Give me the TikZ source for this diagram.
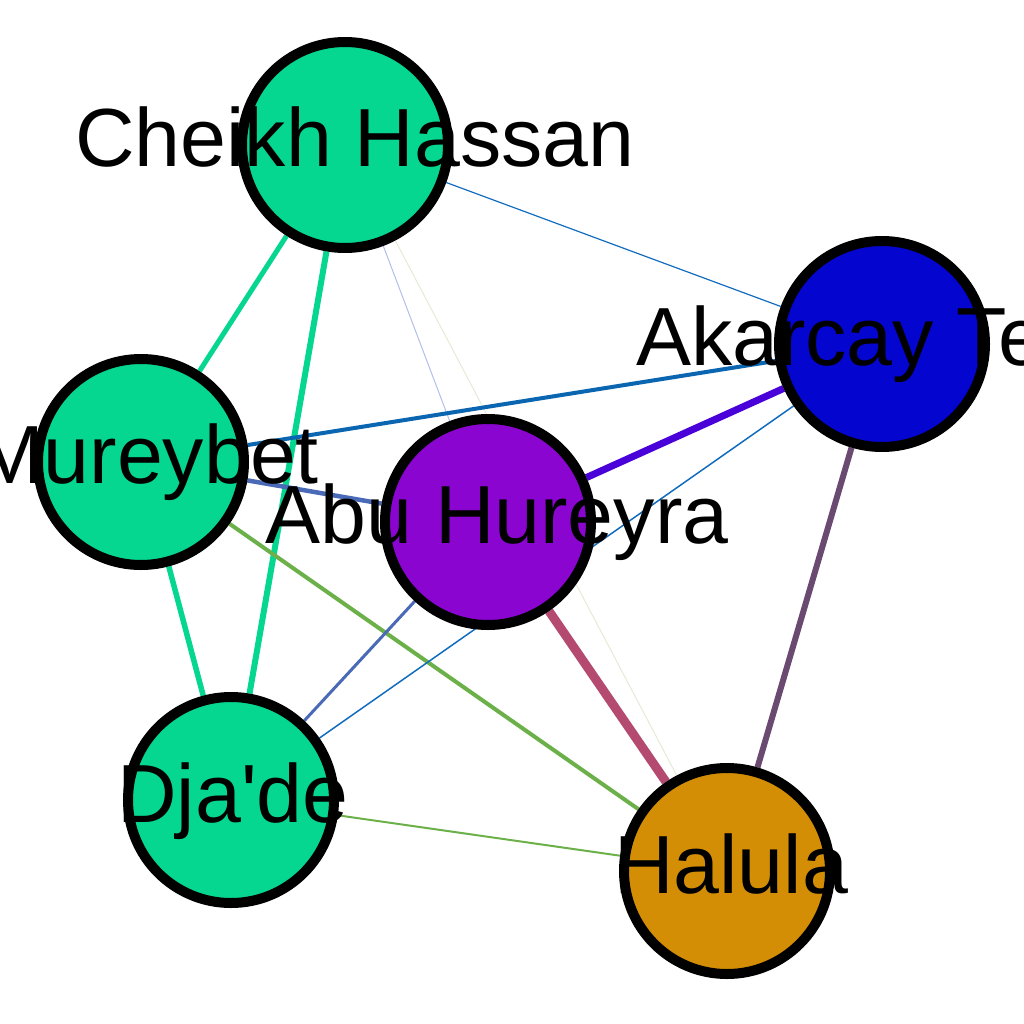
\documentclass[tikz,border=0pt]{standalone}
\usepackage{fontspec}
\setmainfont{Liberation Sans}
\usetikzlibrary{backgrounds}
\definecolor{cgreen}{RGB}{5,214,144}
\definecolor{cblue}{RGB}{5,5,208}
\definecolor{cpurple}{RGB}{139,5,208}
\definecolor{corange}{RGB}{212,142,5}
\definecolor{eblue}{RGB}{18,108,190}
\definecolor{eblueB}{RGB}{10,102,176}
\definecolor{eslate}{RGB}{74,106,184}
\definecolor{egreen}{RGB}{108,176,74}
\definecolor{eviolet}{RGB}{74,0,216}
\definecolor{erose}{RGB}{180,74,112}
\definecolor{emauve}{RGB}{106,74,112}
\definecolor{efaintblue}{RGB}{176,192,232}
\definecolor{efaintgreen}{RGB}{226,236,212}
\tikzset{
  site/.style={circle, draw=black, line width=10pt, minimum size=206pt, inner sep=0pt},
  lab/.style={anchor=base, inner sep=0pt, font=\fontsize{82.5}{98}\selectfont},
  edge/.style={line cap=butt}
}
\begin{document}
\begin{tikzpicture}[x=1pt,y=-1pt]
\useasboundingbox (0,0) rectangle (1024,1024);
\node[site, fill=cgreen] (ch) at (345,145) {};
\node[site, fill=cblue] (ak) at (882,344) {};
\node[site, fill=cgreen] (mu) at (141,462) {};
\node[site, fill=cpurple] (ab) at (488,522) {};
\node[site, fill=cgreen] (dj) at (231,800) {};
\node[site, fill=corange] (ha) at (727,871) {};
\begin{scope}[on background layer]
\draw[edge, eblue, line width=1.2pt] (ch) -- (ak);
\draw[edge, cgreen, line width=5pt] (ch) -- (mu);
\draw[edge, cgreen, line width=6pt] (ch) -- (dj);
\draw[edge, efaintblue, line width=1pt] (ch) -- (ab);
\draw[edge, efaintgreen, line width=1pt] (ch) -- (ha);
\draw[edge, eblueB, line width=4pt] (mu) -- (ak);
\draw[edge, eslate, line width=4.5pt] (mu) -- (ab);
\draw[edge, egreen, line width=4pt] (mu) -- (ha);
\draw[edge, cgreen, line width=5.5pt] (mu) -- (dj);
\draw[edge, eviolet, line width=7pt] (ab) -- (ak);
\draw[edge, erose, line width=9pt] (ab) -- (ha);
\draw[edge, eslate, line width=3pt] (ab) -- (dj);
\draw[edge, eblue, line width=1.5pt] (ak) -- (dj);
\draw[edge, emauve, line width=6pt] (ak) -- (ha);
\draw[edge, egreen, line width=2pt] (dj) -- (ha);
\end{scope}
\node[lab] (chl) at (355,166.5) {Cheikh Hassan};
\node[lab] (akl) at (886,365.5) {Akarcay Tepe};
\node[lab] (mul) at (147,483.5) {Mureybet};
\node[lab] (abl) at (497,543.5) {Abu Hureyra};
\node[lab] (djl) at (233,822) {Dja\textquotesingle de};
\node[lab] (hal) at (731,893) {Halula};
\end{tikzpicture}
\end{document}
